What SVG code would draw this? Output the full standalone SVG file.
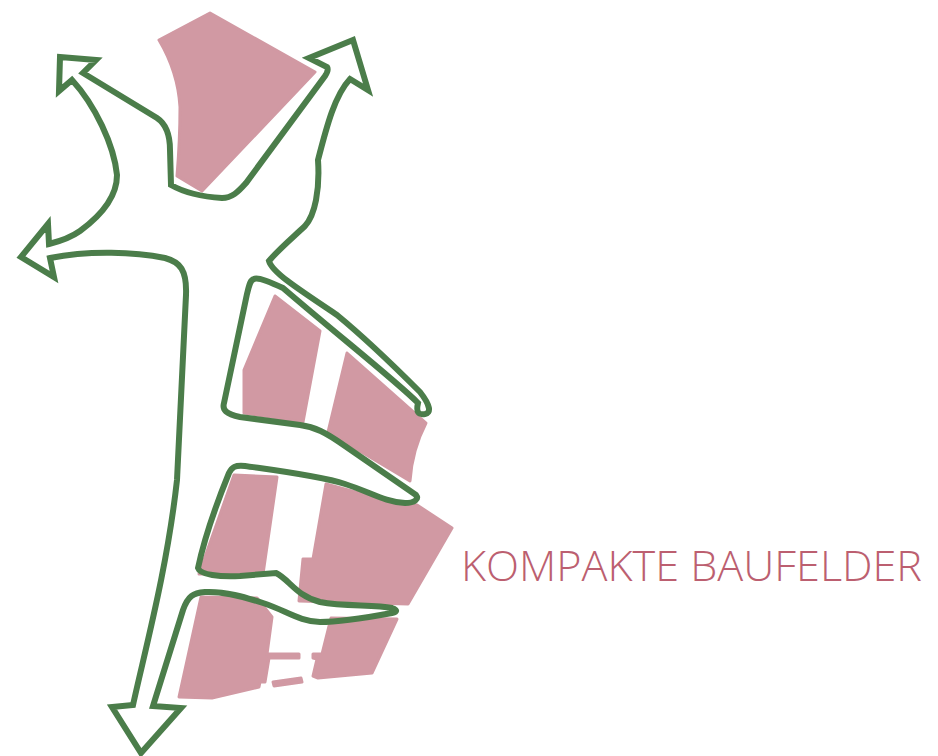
<svg xmlns="http://www.w3.org/2000/svg" width="938" height="756" viewBox="0 0 938 756">
<style>
.b{fill:#d199a3;stroke:#d199a3;stroke-width:3;stroke-linejoin:round}
.c{fill:none;stroke:#4b7d4a;stroke-width:6;stroke-linejoin:miter;stroke-miterlimit:10;stroke-linecap:round}
.t{font-family:"Open Sans","Noto Sans",sans-serif;font-weight:300;font-size:42.5px;fill:#bc5f70}
</style>
<rect width="938" height="756" fill="#fff"/>
<g id="baufeld-1"><path class="b" d="M159 40L210 13L315 72L202 191L177 176Q180 140 180 107Q178 72 159 40Z"/></g>
<g id="baufeld-2"><path class="b" d="M275 296L320 331L303 422L244 413L244 370Z"/></g>
<g id="baufeld-3"><path class="b" d="M347 353L426 423Q412 450 410 481L328 432Z"/></g>
<g id="baufeld-4"><path class="b" d="M234 475L277 477L263 574L199 574Z"/></g>
<g id="baufeld-5"><path class="b" d="M326 484L385 500L417 505L452 528L408 604L299 601L303 559L313 559Z"/></g>
<g id="baufeld-6"><path class="b" d="M201 597L257 598L272 617L267 654L299 654L299 658L269 658L265 682L260 682L259 687L212 698L179 697Z"/></g>
<g id="baufeld-7"><path class="b" d="M331 618L397 619L372 673L318 678L313 676L317 659L313 658L313 654L322 654Z"/></g>
<g id="baufeld-8"><path class="b" d="M273 682L301 678L302 682L274 686Z"/></g>
<g id="connectors">
<path class="c" d="M60 57L96 60L83 73L157 118C166 124 170 135 170 150L171 185C185 193 205 197 222 198C232 198 238 192 246 183L325 76Q329 70 327 67L309 58L353 40L368 90L350 79C335 95 327 125 318 160C320 190 315 215 305 226C290 240 278 250 269 261C272 272 295 287 337 315C365 338 400 372 420 392C431 406 431 413 425 414C418 415 416 412 418 403C395 380 340 337 283 288C270 282 258 277 254 279C250 280 249 286 247 294L224 403C222 410 226 414 240 417L300 425C315 427 325 432 345 446L416 495C419 499 415 503 405 503C385 502 370 492 345 484C320 476 280 471 245 466C235 465 232 467 229 473C218 500 205 535 198 568C200 575 220 577 240 576L276 573C290 580 295 595 320 602C345 607 375 604 392 608C398 610 397 612 392 613C370 617 340 622 320 622C300 622 285 610 263 603C245 597 225 591 205 592C193 593 188 596 183 610L153 706L181 708L141 753L112 707L133 705C145 650 167 570 177 480L186 295C187 270 180 262 165 258C135 252 90 250 50 258L54 277L21 257L48 224L49 244C65 240 73 236 80 231C95 220 117 200 117 175C114 145 95 105 72 80L59 91Z"/>
</g>
<g id="label"><text class="t" x="461" y="581" textLength="461" lengthAdjust="spacingAndGlyphs">KOMPAKTE BAUFELDER</text></g>
</svg>
